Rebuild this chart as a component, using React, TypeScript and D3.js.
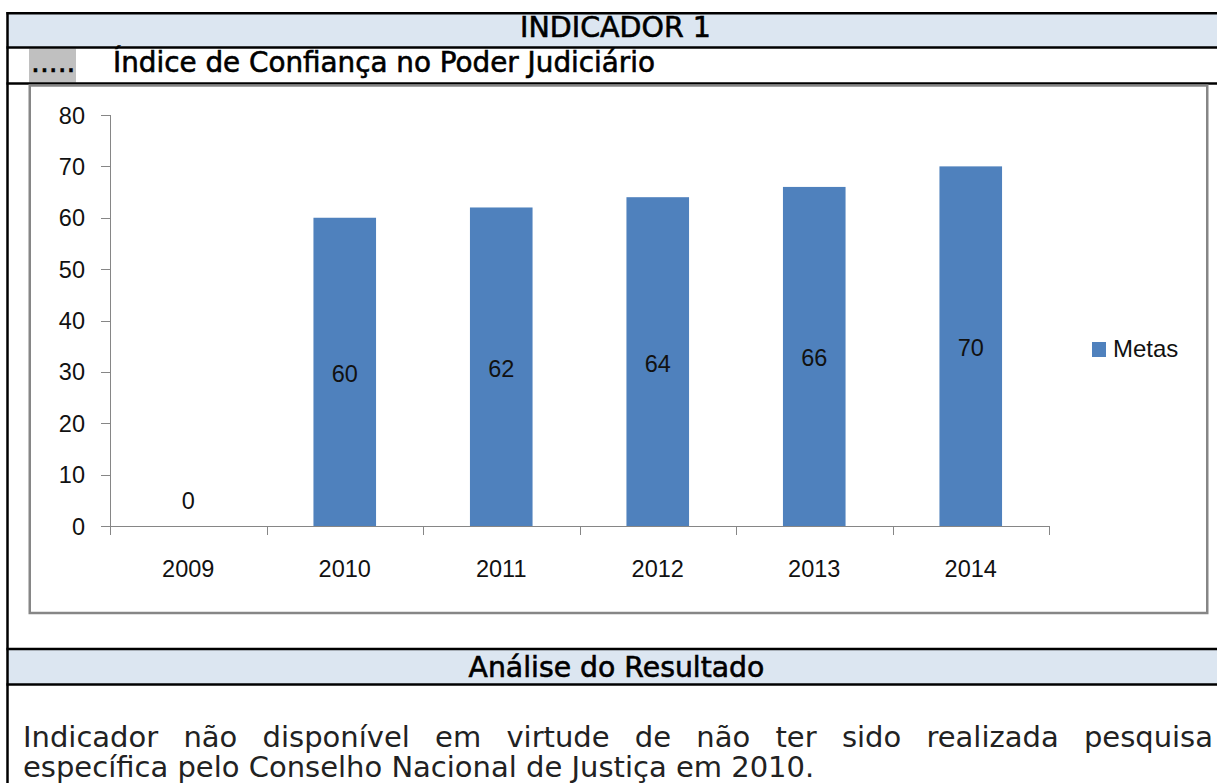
import React, { useMemo } from 'react';
import * as d3 from 'd3';

const categories = ['2009', '2010', '2011', '2012', '2013', '2014'];
const metas = [0, 60, 62, 64, 66, 70];
const yTicks = [0, 10, 20, 30, 40, 50, 60, 70, 80];
const seriesName = 'Metas';
const headerTitle = 'INDICADOR 1';
const indicatorName = 'Índice de Confiança no Poder Judiciário';
const analysisTitle = 'Análise do Resultado';
const analysisLine1 = 'Indicador não disponível em virtude de não ter sido realizada pesquisa';
const analysisLine2 = 'específica pelo Conselho Nacional de Justiça em 2010.';

const W = 1217;
const H = 783;
const HEAD_FONT = "'DejaVu Sans', Verdana, sans-serif";
const CHART_FONT = "'Liberation Sans', Arial, sans-serif";
const BODY_SIZE = 29;

function measure(text: string, font: string): number {
  if (typeof document === 'undefined') return 0;
  const c = document.createElement('canvas');
  const ctx = c.getContext('2d');
  if (!ctx) return 0;
  ctx.font = font;
  return ctx.measureText(text).width;
}

export default function App() {
  const x = d3.scaleBand<string>().domain(categories).range([110, 1049]).paddingInner(0.6).paddingOuter(0.3);
  const y = d3.scaleLinear().domain([0, 80]).range([526, 115]);
  const step = x.step();
  const bounds = d3.range(categories.length + 1).map((i) => 110 + i * step);

  const wordSpacing = useMemo(() => {
    const natural = measure(analysisLine1, `${BODY_SIZE}px 'DejaVu Sans'`);
    const spaces = analysisLine1.split(' ').length - 1;
    if (!natural) return 0;
    return (1213 - 23 - natural) / spaces;
  }, []);

  const headStroke = { stroke: '#000', strokeWidth: 0.6 };

  return (
    <svg
      width={W}
      height={H}
      viewBox={`0 0 ${W} ${H}`}
      style={{ position: 'absolute', left: 0, top: 0, background: '#fff' }}
    >
      <rect x={0} y={0} width={W} height={H} fill="#fff" />
      {/* header rows */}
      <rect x={8} y={13} width={W} height={34} fill="#DCE6F1" />
      <rect x={29} y={48.5} width={47} height={34} fill="#C0C0C0" />
      <rect x={8} y={649} width={W} height={35} fill="#DCE6F1" />
      <g stroke="#000" strokeWidth={2.5}>
        <line x1={6.5} x2={W} y1={13.25} y2={13.25} />
        <line x1={6.5} x2={W} y1={47.5} y2={47.5} />
        <line x1={6.5} x2={W} y1={83.5} y2={83.5} />
        <line x1={6.5} x2={W} y1={649} y2={649} />
        <line x1={6.5} x2={W} y1={684.5} y2={684.5} />
        <line x1={7.5} x2={7.5} y1={12} y2={H} />
      </g>
      <text x={615.5} y={37} textAnchor="middle" fontFamily={HEAD_FONT} fontSize={28.5} fill="#000" {...headStroke}>
        {headerTitle}
      </text>
      <text x={31} y={72} fontFamily={HEAD_FONT} fontSize={28} fill="#000" {...headStroke}>.....</text>
      <text x={113} y={72} fontFamily={HEAD_FONT} fontSize={27.8} fill="#000" {...headStroke}>
        {indicatorName}
      </text>
      <text x={616.5} y={677} textAnchor="middle" fontFamily={HEAD_FONT} fontSize={28.3} fill="#000" {...headStroke}>
        {analysisTitle}
      </text>
      <text x={23} y={747} fontFamily={HEAD_FONT} fontSize={BODY_SIZE} fill="#222" style={{ wordSpacing: `${wordSpacing}px` }}>
        {analysisLine1}
      </text>
      <text x={23} y={777} fontFamily={HEAD_FONT} fontSize={BODY_SIZE} fill="#222">
        {analysisLine2}
      </text>

      {/* chart frame */}
      <rect x={29.75} y={85.5} width={1177.5} height={527.5} fill="#fff" stroke="#868686" strokeWidth={2.5} />

      {/* bars */}
      <g>
        {categories.map((c, i) => (
          <rect
            key={c}
            x={x(c)}
            y={y(metas[i])}
            width={x.bandwidth()}
            height={y(0) - y(metas[i])}
            fill="#4F81BD"
          />
        ))}
      </g>

      {/* axes */}
      <g stroke="#868686" strokeWidth={1} shapeRendering="crispEdges">
        <line x1={110.5} x2={110.5} y1={y(80)} y2={y(0)} />
        {yTicks.map((t) => (
          <line key={t} x1={101} x2={110.5} y1={Math.round(y(t)) + 0.5} y2={Math.round(y(t)) + 0.5} />
        ))}
        <line x1={110.5} x2={1049} y1={Math.round(y(0)) + 0.5} y2={Math.round(y(0)) + 0.5} />
        {bounds.map((b, i) => (
          <line key={i} x1={Math.round(b) + 0.5} x2={Math.round(b) + 0.5} y1={y(0)} y2={y(0) + 9} />
        ))}
      </g>
      <g fontFamily={CHART_FONT} fontSize={23.5} fill="#111">
        {yTicks.map((t) => (
          <text key={t} x={85} y={y(t) + 8.5} textAnchor="end">
            {t}
          </text>
        ))}
        {categories.map((c) => (
          <text key={c} x={(x(c) as number) + x.bandwidth() / 2} y={577} textAnchor="middle">
            {c}
          </text>
        ))}
        {categories.map((c, i) => {
          const v = metas[i];
          const cy = v === 0 ? y(0) - 25.5 : (y(v) + y(0)) / 2 + 1.5;
          return (
            <text key={'l' + c} x={(x(c) as number) + x.bandwidth() / 2} y={cy + 8.5} textAnchor="middle">
              {v}
            </text>
          );
        })}
      </g>

      {/* legend */}
      <rect x={1092} y={342} width={14} height={15} fill="#4F81BD" />
      <text x={1113} y={357} fontFamily={CHART_FONT} fontSize={24} fill="#111">
        {seriesName}
      </text>
    </svg>
  );
}
